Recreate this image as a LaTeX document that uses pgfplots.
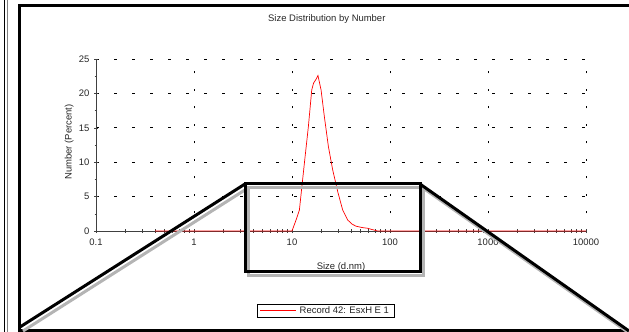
\documentclass[border=0pt]{standalone}
\usepackage{fontspec}
\setmainfont{Liberation Sans}
\usepackage{pgfplots}
\pgfplotsset{compat=1.18}
\definecolor{axgray}{HTML}{404040}
\definecolor{shadowgray}{HTML}{B4B4B4}
\definecolor{datared}{HTML}{FF0000}
\begin{document}
\begin{tikzpicture}
\useasboundingbox (0bp,0bp) rectangle (629bp,332bp);
\begin{axis}[
  at={(96bp,101bp)}, anchor=south west,
  scale only axis, width=490bp, height=172bp,
  xmode=log, xmin=0.1, xmax=10000, ymin=0, ymax=25,
  axis lines=left, axis line style={-, axgray, line width=0.8bp},
  xtick={0.1,1,10,100,1000,10000},
  xticklabels={0.1,1,10,100,1000,10000},
  minor xtick={0.2,0.3,0.4,0.5,0.6,0.7,0.8,0.9,2,3,4,5,6,7,8,9,20,30,40,50,60,70,80,90,200,300,400,500,600,700,800,900,2000,3000,4000,5000,6000,7000,8000,9000},
  ytick={0,5,10,15,20,25},
  minor ytick={2.5,7.5,12.5,17.5,22.5},
  tick align=center,
  major tick length=4bp, minor tick length=3bp,
  tick style={axgray, line width=0.6bp},
  xmajorgrids, ymajorgrids,
  major x grid style={black, line width=0.7bp, dash pattern=on 2bp off 15.5bp},
  major y grid style={black, line width=0.7bp, dash pattern=on 3bp off 15bp},
  /pgf/number format/assume math mode=true,
  ticklabel style={font=\fontsize{9.5}{11}\selectfont, text=black!85},
  xticklabel style={yshift=-2bp},
  yticklabel style={xshift=-1bp},
  title={Size Distribution by Number},
  title style={at={(axis description cs:0.471,1.198)}, anchor=center, font=\fontsize{9.5}{11}\selectfont, text=black!85},
  xlabel={Size (d.nm)},
  xlabel style={at={(axis description cs:0.5,-0.209)}, anchor=center, font=\fontsize{9.5}{11}\selectfont, text=black!85},
  ylabel={Number (Percent)},
  ylabel style={at={(axis description cs:-0.055,0.517)}, anchor=center, rotate=0, font=\fontsize{9.5}{11}\selectfont, text=black!85},
  legend style={at={(axis description cs:0.469,-0.465)}, anchor=center, draw=black, line width=0.7bp, fill=white,
    font=\fontsize{9.5}{11}\selectfont, inner xsep=2bp, inner ysep=1bp,
    nodes={inner xsep=3bp, inner ysep=1.5bp}},
  legend image code/.code={%
    \pgfsetstrokecolor{datared}\pgfsetlinewidth{1bp}%
    \pgfpathmoveto{\pgfpoint{0bp}{0bp}}\pgfpathlineto{\pgfpoint{36bp}{0bp}}%
    \pgfusepath{stroke}},
  clip=false,
]
\addplot[draw=datared, line width=0.7bp] coordinates {
(0.4,0) (10,0) (11.0,1.6) (11.9,3.05) (12.6,6.4) (13.6,10.8) (14.7,15.2)
(15.9,20.5) (16.6,21.5) (17.5,22.0) (18.4,22.6) (19.8,20.5) (21.4,16.6)
(23.5,12.3) (26,8.9) (29.3,5.7) (32.9,3.05) (37,1.6) (41,1.0) (45,0.7)
(52,0.5) (59,0.4) (66,0.2) (75,0) (10000,0)
};
\addlegendentry{\textcolor{black!85}{Record 42: EsxH E 1}}
\end{axis}
% outer window frame
\draw[black, line width=1.3bp] (4.7bp,0bp) -- (4.7bp,332bp);
\draw[shadowgray!70!black, line width=1.2bp] (7.7bp,0bp) -- (7.7bp,332bp);
\draw[black, line width=2.5bp] (629bp,326.5bp) -- (19.5bp,326.5bp) -- (19.5bp,1.5bp) -- (629bp,1.5bp);
% magnifier overlay shadow
\begin{scope}[shift={(3bp,-4bp)}, shadowgray, line width=3bp, line join=miter]
\draw (20bp,5bp) -- (245bp,148bp);
\draw (245bp,148bp) rectangle (420bp,60bp);
\draw (420bp,148bp) -- (629bp,1bp);
\end{scope}
\begin{scope}[black, line width=3bp, line join=miter]
\draw (20bp,5bp) -- (245bp,148bp);
\draw (245bp,148bp) rectangle (420bp,60bp);
\draw (420bp,148bp) -- (629bp,1bp);
\end{scope}
\end{tikzpicture}
\end{document}
